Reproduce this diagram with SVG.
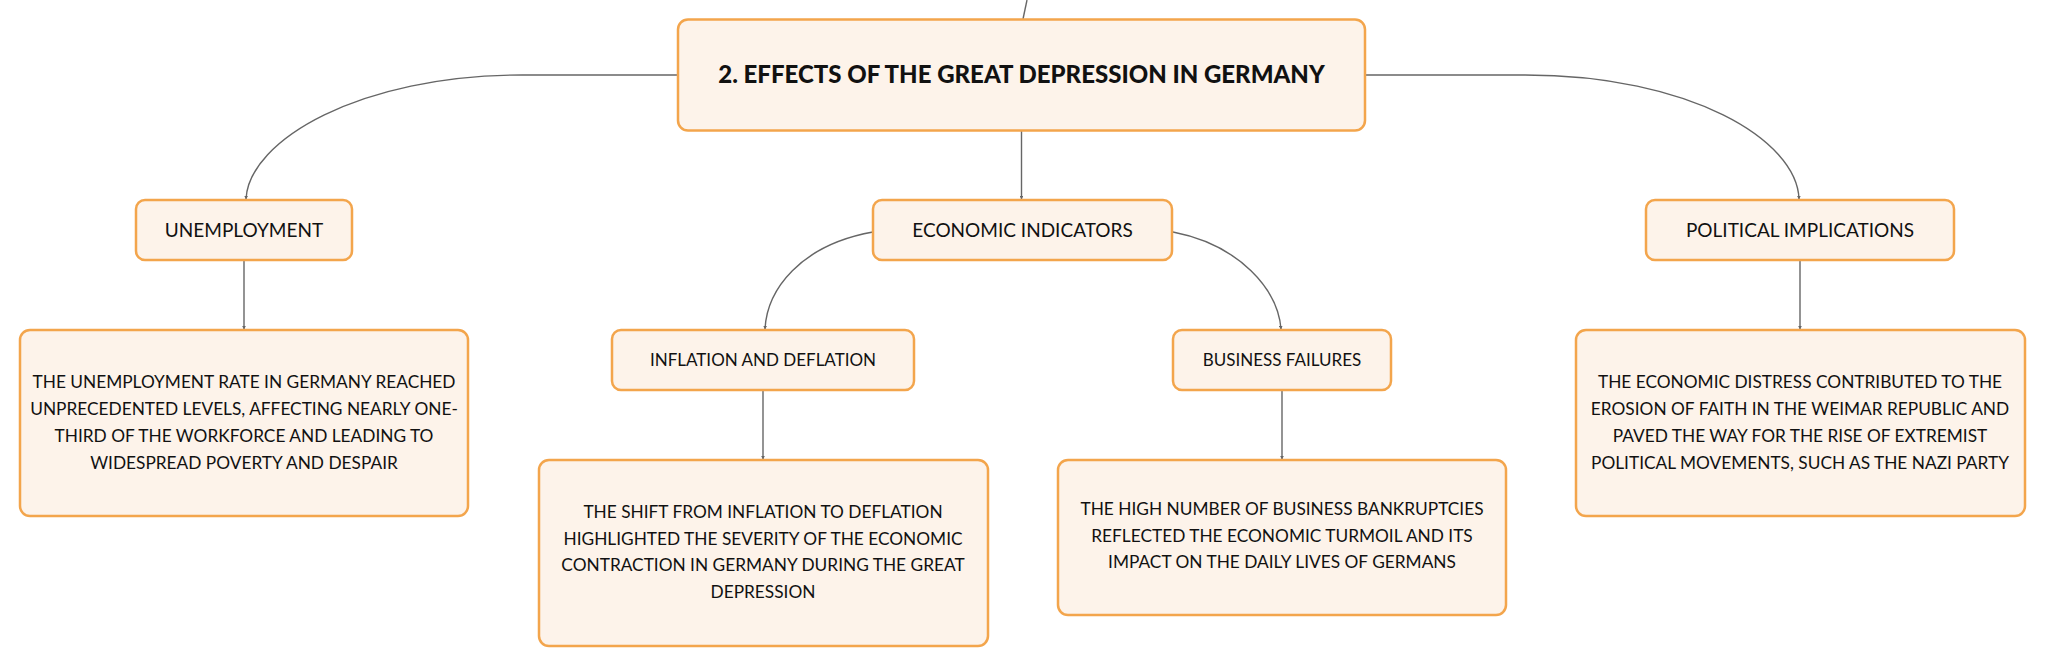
<svg xmlns="http://www.w3.org/2000/svg" width="2046" height="667" viewBox="0 0 2046 667">
<defs>
<style>
.box{fill:#fdf3ea;stroke:#f3a54c;stroke-width:2.5}
.c{fill:none;stroke:#666666;stroke-width:1.4}
.t{font-family:Lato,"Noto Sans","Liberation Sans",sans-serif;fill:#111111;text-anchor:middle}
.root{font-size:24px;font-weight:900}
.l2{font-size:19px}
.l3{font-size:17px}
.lf{font-size:17.3px}
</style>
<marker id="ah" viewBox="0 0 6 6" refX="5" refY="3" markerWidth="2.6" markerHeight="2.6" orient="auto">
<path d="M0,0 L6,3 L0,6 z" fill="#666666"/>
</marker>
</defs>
<rect width="2046" height="667" fill="#ffffff"/>
<g id="connectors">
<path class="c" d="M1027,0 L1023,19"/>
<path class="c" d="M678,75 L522,75 C360,75 249,140 246,199" marker-end="url(#ah)"/>
<path class="c" d="M1365,75 L1525,75 C1690,75 1797,140 1799,199" marker-end="url(#ah)"/>
<path class="c" d="M1021.5,131 L1021.5,199" marker-end="url(#ah)"/>
<path class="c" d="M873,232 C800,245 767,290 765,329" marker-end="url(#ah)"/>
<path class="c" d="M1173,232 C1240,245 1278,290 1281,329" marker-end="url(#ah)"/>
<path class="c" d="M244,261 L244,329" marker-end="url(#ah)"/>
<path class="c" d="M1800,261 L1800,329" marker-end="url(#ah)"/>
<path class="c" d="M763,391 L763,459" marker-end="url(#ah)"/>
<path class="c" d="M1282,391 L1282,459" marker-end="url(#ah)"/>
</g>
<g id="root">
<rect class="box" x="678" y="19.5" width="687" height="111" rx="10"/>
<text class="t root" x="1021.5" y="83">2. EFFECTS OF THE GREAT DEPRESSION IN GERMANY</text>
</g>
<g id="unemployment">
<rect class="box" x="136" y="200" width="216" height="60" rx="9"/>
<text class="t l2" x="244" y="237">UNEMPLOYMENT</text>
</g>
<g id="economic-indicators">
<rect class="box" x="873" y="200" width="299" height="60" rx="9"/>
<text class="t l2" x="1022.5" y="237">ECONOMIC INDICATORS</text>
</g>
<g id="political-implications">
<rect class="box" x="1646" y="200" width="308" height="60" rx="9"/>
<text class="t l2" x="1800" y="237">POLITICAL IMPLICATIONS</text>
</g>
<g id="inflation-deflation">
<rect class="box" x="612" y="330" width="302" height="60" rx="9"/>
<text class="t l3" x="763" y="366">INFLATION AND DEFLATION</text>
</g>
<g id="business-failures">
<rect class="box" x="1173" y="330" width="218" height="60" rx="9"/>
<text class="t l3" x="1282" y="366">BUSINESS FAILURES</text>
</g>
<g id="unemployment-detail">
<rect class="box" x="20" y="330" width="448" height="186" rx="10"/>
<text class="t lf" x="244" y="388">THE UNEMPLOYMENT RATE IN GERMANY REACHED</text>
<text class="t lf" x="244" y="415">UNPRECEDENTED LEVELS, AFFECTING NEARLY ONE-</text>
<text class="t lf" x="244" y="442">THIRD OF THE WORKFORCE AND LEADING TO</text>
<text class="t lf" x="244" y="469">WIDESPREAD POVERTY AND DESPAIR</text>
</g>
<g id="inflation-detail">
<rect class="box" x="539" y="460" width="449" height="186" rx="10"/>
<text class="t lf" x="763" y="518">THE SHIFT FROM INFLATION TO DEFLATION</text>
<text class="t lf" x="763" y="545">HIGHLIGHTED THE SEVERITY OF THE ECONOMIC</text>
<text class="t lf" x="763" y="571">CONTRACTION IN GERMANY DURING THE GREAT</text>
<text class="t lf" x="763" y="598">DEPRESSION</text>
</g>
<g id="business-detail">
<rect class="box" x="1058" y="460" width="448" height="155" rx="10"/>
<text class="t lf" x="1282" y="515">THE HIGH NUMBER OF BUSINESS BANKRUPTCIES</text>
<text class="t lf" x="1282" y="542">REFLECTED THE ECONOMIC TURMOIL AND ITS</text>
<text class="t lf" x="1282" y="568">IMPACT ON THE DAILY LIVES OF GERMANS</text>
</g>
<g id="political-detail">
<rect class="box" x="1576" y="330" width="449" height="186" rx="10"/>
<text class="t lf" x="1800" y="388">THE ECONOMIC DISTRESS CONTRIBUTED TO THE</text>
<text class="t lf" x="1800" y="415">EROSION OF FAITH IN THE WEIMAR REPUBLIC AND</text>
<text class="t lf" x="1800" y="442">PAVED THE WAY FOR THE RISE OF EXTREMIST</text>
<text class="t lf" x="1800" y="469">POLITICAL MOVEMENTS, SUCH AS THE NAZI PARTY</text>
</g>
</svg>
